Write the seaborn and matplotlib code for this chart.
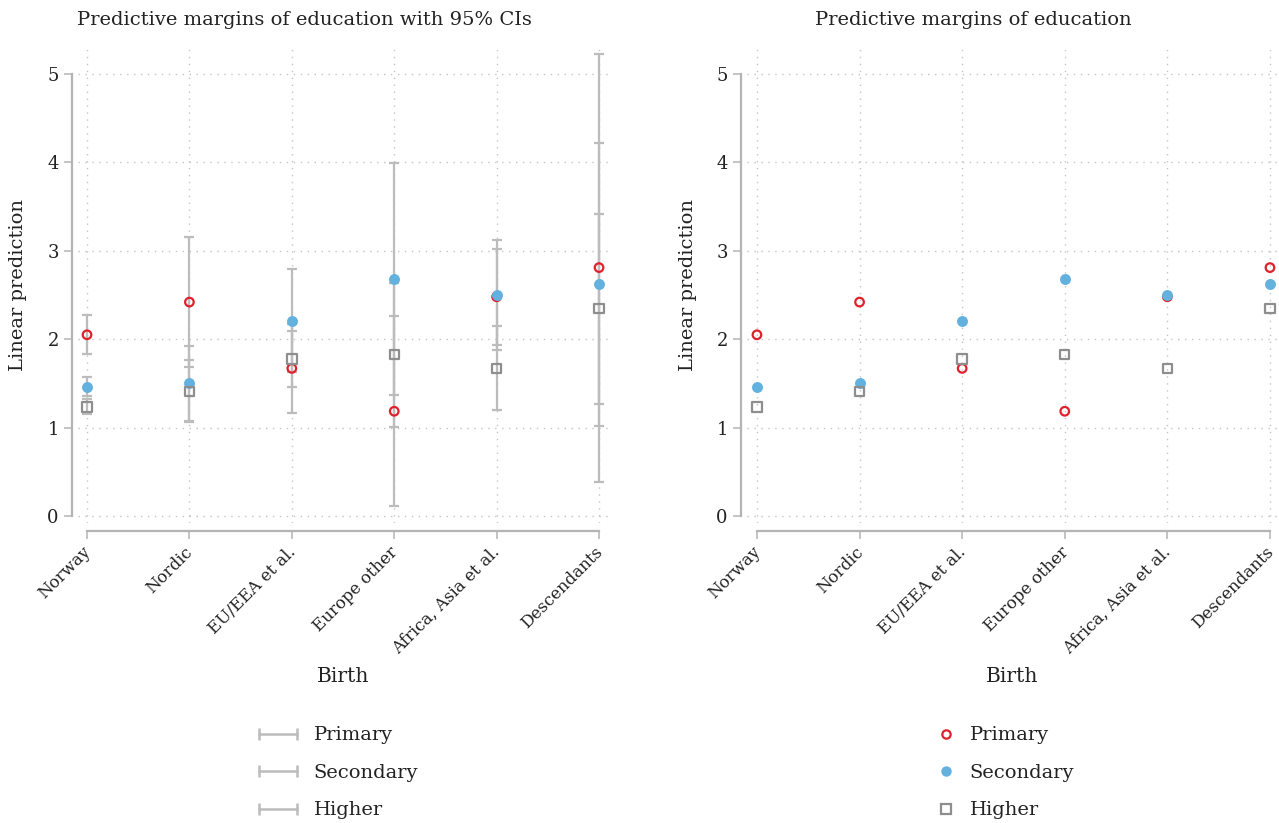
import matplotlib
matplotlib.use("Agg")
import matplotlib.pyplot as plt
import matplotlib.transforms as mtransforms
import seaborn as sns
import pandas as pd
from matplotlib.lines import Line2D

categories = ["Norway", "Nordic", "EU/EEA et al.", "Europe other", "Africa, Asia et al.", "Descendants"]
levels = ["Primary", "Secondary", "Higher"]

primary = [2.05, 2.42, 1.67, 1.185, 2.48, 2.81]
primary_lo = [1.83, 1.68, 1.17, 0.11, 1.94, 0.385]
primary_hi = [2.27, 3.16, 2.17, 2.26, 3.02, 5.23]

secondary = [1.465, 1.50, 2.21, 2.68, 2.50, 2.62]
secondary_lo = [1.36, 1.075, 1.63, 1.37, 1.88, 1.02]
secondary_hi = [1.57, 1.92, 2.79, 3.99, 3.12, 4.22]

higher = [1.235, 1.41, 1.775, 1.825, 1.67, 2.345]
higher_lo = [1.15, 1.06, 1.46, 1.01, 1.196, 1.27]
higher_hi = [1.32, 1.76, 2.09, 2.64, 2.15, 3.42]

yticks = [0, 1, 2, 3, 4, 5]

sns.set_theme(style="white")
plt.rcParams["font.family"] = ["DejaVu Serif"]

W, H = 1279, 823
fig = plt.figure(figsize=(W / 100, H / 100), dpi=100)


def px_axes(l, r, t, b):
    return fig.add_axes([l / W, 1 - b / H, (r - l) / W, (b - t) / H])


RED = "#e0202b"
BLUE = "#62b1df"
GRAY = "#8e8e8e"
CI = "#bcbcbc"
AX = "#b4b4b4"
TXT = "#222222"

series = {
    "Primary": (primary, primary_lo, primary_hi),
    "Secondary": (secondary, secondary_lo, secondary_hi),
    "Higher": (higher, higher_lo, higher_hi),
}
rows = []
for lev in levels:
    v, lo, hi = series[lev]
    for c, a, b, d in zip(categories, v, lo, hi):
        rows.append(dict(Birth=c, level=lev, margin=a, lo=b, hi=d))
df = pd.DataFrame(rows)

styles = {
    "Primary": dict(marker="o", s=38, facecolor="none", edgecolor=RED, linewidth=1.6),
    "Secondary": dict(marker="o", s=62, color=BLUE, edgecolor=BLUE, linewidth=0),
    "Higher": dict(marker="s", s=46, facecolor="none", edgecolor=GRAY, linewidth=1.6),
}


def style_axes(ax, xl, xr):
    ax.set_xlim(xl, xr)
    ax.set_ylim(-0.079, 5.328)
    ax.set_yticks(yticks)
    ax.set_yticklabels([str(t) for t in yticks])
    ax.set_xticks(range(len(categories)))
    ax.set_xticklabels(categories)
    for s in ["top", "right"]:
        ax.spines[s].set_visible(False)
    ax.spines["left"].set_position(("outward", 4.3))
    ax.spines["bottom"].set_position(("outward", 5.8))
    ax.spines["left"].set_bounds(0, 5)
    ax.spines["bottom"].set_bounds(0, 5)
    for s in ["left", "bottom"]:
        ax.spines[s].set_color(AX)
        ax.spines[s].set_linewidth(1.6)
    ax.tick_params(axis="both", which="major", length=6, width=1.1, color=AX,
                   labelsize=13, labelcolor=TXT, left=True, bottom=True)
    ax.tick_params(axis="x", labelrotation=45, pad=3, labelsize=12)
    ax.grid(True, linestyle=(0, (1, 4)), color="#c4c4c4", linewidth=1.0)
    ax.set_xlabel("")
    ax.set_ylabel("")
    ax.set_facecolor("white")


# Left panel
ax1 = px_axes(78, 610, 45, 523)
for lev in levels:
    d = df[df.level == lev]
    ax1.errorbar(d["Birth"], d["margin"],
                 yerr=[d["margin"] - d["lo"], d["hi"] - d["margin"]],
                 fmt="none", ecolor=CI, elinewidth=1.6, capsize=3.8, capthick=1.6, zorder=2)
for lev in levels:
    d = df[df.level == lev]
    sns.scatterplot(data=d, x="Birth", y="margin", ax=ax1, zorder=3, legend=False, **styles[lev])
style_axes(ax1, -0.088, 5.107)

# Right panel
ax2 = px_axes(747, 1279, 45, 523)
for lev in levels:
    d = df[df.level == lev]
    sns.scatterplot(data=d, x="Birth", y="margin", ax=ax2, zorder=3, legend=False, **styles[lev])
style_axes(ax2, -0.097, 5.088)

# Titles and axis labels
fig.text(304 / W, 1 - 20 / H, "Predictive margins of education with 95% CIs",
         ha="center", va="center", fontsize=14, color=TXT)
fig.text(973 / W, 1 - 20 / H, "Predictive margins of education",
         ha="center", va="center", fontsize=14, color=TXT)
for xp in (18, 688):
    fig.text(xp / W, 1 - 285 / H, "Linear prediction", rotation=90,
             ha="center", va="center", fontsize=14, color=TXT)
fig.text(343 / W, 1 - 676 / H, "Birth", ha="center", va="center", fontsize=14.5, color=TXT)
fig.text(1012 / W, 1 - 676 / H, "Birth", ha="center", va="center", fontsize=14.5, color=TXT)

# Legends
ci_handles = [Line2D([0, 1], [0, 0], color=CI, lw=1.8, marker="|", markersize=8,
                     markeredgewidth=1.8, markeredgecolor=CI) for _ in levels]
leg1 = fig.legend(ci_handles, levels, loc="upper left",
                  bbox_to_anchor=(236 / W, 1 - 709 / H), frameon=False,
                  numpoints=2, handlelength=2.55, handletextpad=0.55,
                  labelspacing=1.0, fontsize=14, labelcolor=TXT)

pt_handles = [
    Line2D([], [], linestyle="none", marker="o", markersize=6, markerfacecolor="none",
           markeredgecolor=RED, markeredgewidth=1.6),
    Line2D([], [], linestyle="none", marker="o", markersize=7.5, markerfacecolor=BLUE,
           markeredgecolor=BLUE, markeredgewidth=0),
    Line2D([], [], linestyle="none", marker="s", markersize=6.5, markerfacecolor="none",
           markeredgecolor=GRAY, markeredgewidth=1.6),
]
leg2 = fig.legend(pt_handles, levels, loc="upper left",
                  bbox_to_anchor=(919 / W, 1 - 709 / H), frameon=False,
                  numpoints=1, handlelength=1.0, handletextpad=0.7,
                  labelspacing=1.0, fontsize=14, labelcolor=TXT)

fig.canvas.draw()
shift = mtransforms.ScaledTranslation(-5 / 100, 0, fig.dpi_scale_trans)
for ax in (ax1, ax2):
    for lab in ax.get_xticklabels():
        lab.set_rotation(45)
        lab.set_ha("right")
        lab.set_rotation_mode("anchor")
        lab.set_transform(lab.get_transform() + shift)

fig.savefig("out.png", dpi=100, facecolor="white")
